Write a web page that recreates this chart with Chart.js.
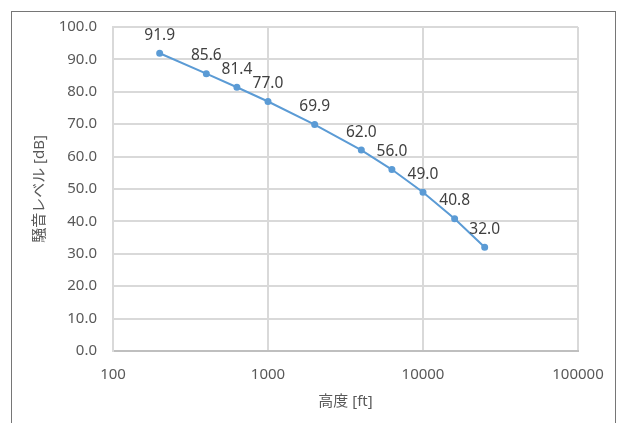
<!DOCTYPE html>
<html>
<head>
<meta charset="utf-8">
<script src="https://cdn.jsdelivr.net/npm/chart.js@4"></script>
<style>
    body { margin: 0; background: #fff; }
    #wrap { position: relative; width: 619px; height: 423px; overflow: hidden; }
    #frame {
        position: absolute; left: 11px; top: 11px; width: 605px; height: 430px;
        border: 1px solid #767676; box-sizing: border-box;
    }
    canvas { position: absolute; left: 0; top: 0; }
</style>
</head>
<body>
<div id="wrap">
    <div id="frame"></div>
    <canvas id="chart" width="619" height="423"></canvas>
</div>
<script>
const altitudes = [200, 400, 630, 1000, 2000, 4000, 6300, 10000, 16000, 25000];
const noiseLevels = [91.9, 85.6, 81.4, 77.0, 69.9, 62.0, 56.0, 49.0, 40.8, 32.0];
const xTicks = [100, 1000, 10000, 100000];

const fontFamily = '"Noto Sans", "Noto Sans CJK JP", sans-serif';
const lineColor = '#5b9bd5';

// simple data label plugin (no datalabels plugin available offline)
const pointLabels = {
    id: 'pointLabels',
    afterDatasetsDraw(chart) {
        const ctx = chart.ctx;
        const meta = chart.getDatasetMeta(0);
        ctx.save();
        ctx.font = '15.5px ' + fontFamily;
        ctx.fillStyle = '#404040';
        ctx.textAlign = 'center';
        ctx.textBaseline = 'middle';
        meta.data.forEach((pt, i) => {
            ctx.fillText(noiseLevels[i].toFixed(1), pt.x, pt.y - 18);
        });
        ctx.restore();
    }
};

new Chart(document.getElementById('chart').getContext('2d'), {
    type: 'line',
    data: {
        datasets: [{
            data: altitudes.map((a, i) => ({ x: a, y: noiseLevels[i] })),
            borderColor: lineColor,
            backgroundColor: lineColor,
            borderWidth: 2,
            pointRadius: 2.5,
            pointHoverRadius: 2.5,
            tension: 0
        }]
    },
    options: {
        responsive: false,
        animation: false,
        layout: { padding: { left: 0, right: 41, top: 27, bottom: 0 } },
        plugins: {
            legend: { display: false },
            tooltip: { enabled: false }
        },
        scales: {
            x: {
                type: 'logarithmic',
                min: 100,
                max: 100000,
                afterBuildTicks: scale => {
                    scale.ticks = xTicks.map(v => ({ value: v }));
                },
                afterFit: scale => { scale.height = 72; },
                ticks: {
                    callback: v => String(v),
                    color: '#595959',
                    font: { family: fontFamily, size: 15 },
                    padding: 15,
                    maxRotation: 0,
                    autoSkip: false
                },
                grid: { color: '#d9d9d9', lineWidth: 2, drawTicks: false },
                border: { color: '#bfbfbf', width: 2 },
                title: {
                    display: true,
                    text: '高度 [ft]',
                    color: '#595959',
                    font: { family: fontFamily, size: 15 },
                    padding: { top: 0, bottom: 12 }
                }
            },
            y: {
                min: 0,
                max: 100,
                afterFit: scale => { scale.width = 113; },
                ticks: {
                    stepSize: 10,
                    callback: v => v.toFixed(1),
                    color: '#595959',
                    font: { family: fontFamily, size: 15 },
                    padding: 16
                },
                grid: { color: '#d9d9d9', lineWidth: 2, drawTicks: false },
                border: { color: '#d9d9d9', width: 2 },
                title: {
                    display: true,
                    text: '騒音レベル [dB]',
                    color: '#595959',
                    font: { family: fontFamily, size: 15 },
                    padding: { top: 31, bottom: 0 }
                }
            }
        }
    },
    plugins: [pointLabels]
});
</script>
</body>
</html>
